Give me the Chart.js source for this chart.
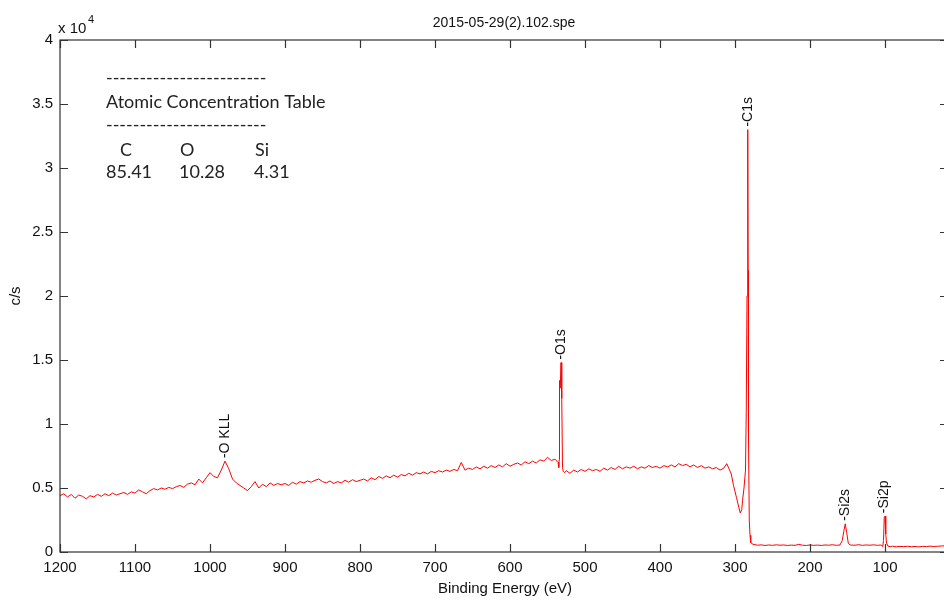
<!DOCTYPE html>
<html>
<head>
<meta charset="utf-8">
<script src="https://cdn.jsdelivr.net/npm/chart.js@4"></script>
<style>
    html, body { margin: 0; padding: 0; overflow: hidden; background: #fff; }
    #wrap { width: 949px; height: 601px; }
</style>
</head>
<body>
<div id="wrap"><canvas id="xpsChart" width="949" height="601"></canvas></div>
<script>
// binding energy (eV) and intensity (c/s)
let bindingEnergy = [
    1200, 1195, 1190, 1185, 1180, 1175, 1170, 1165, 1160, 1155, 1150, 1145, 1140, 1135, 1130, 1125, 1120, 1115, 1110, 1105,
    1100, 1095, 1090, 1085, 1080, 1075, 1070, 1065, 1060, 1055, 1050, 1045, 1040, 1035, 1030, 1025, 1020, 1015, 1010, 1005,
    1000, 995, 990, 985, 980, 975, 970, 965, 960, 955, 950, 945, 940, 935, 930, 925, 920, 915, 910, 905,
    900, 895, 890, 885, 880, 875, 870, 865, 860, 855, 850, 845, 840, 835, 830, 825, 820, 815, 810, 805,
    800, 795, 790, 785, 780, 775, 770, 765, 760, 755, 750, 745, 740, 735, 730, 725, 720, 715, 710, 705,
    700, 695, 690, 685, 680, 675, 670, 665, 660, 655, 650, 645, 640, 635, 630, 625, 620, 615, 610, 605,
    600, 595, 590, 585, 580, 575, 570, 565, 560, 555, 550, 545, 540, 536, 535, 534.5, 534, 533, 532, 531,
    530, 529, 527, 525, 520, 515, 510, 505, 500, 495, 490, 485, 480, 475, 470, 465, 460, 455, 450, 445,
    440, 435, 430, 425, 420, 415, 410, 405, 400, 395, 390, 385, 380, 375, 370, 365, 360, 355, 350, 345,
    340, 335, 330, 325, 320, 315, 311, 308, 305, 302, 298, 295, 293, 291, 290, 288, 286, 285, 284, 283,
    282.5, 282, 281, 280, 279, 276, 270, 265, 260, 255, 250, 245, 240, 235, 230, 225, 220, 215, 210, 205,
    200, 195, 190, 185, 180, 175, 170, 165, 160, 157, 155, 153, 151, 149, 147, 145, 140, 135, 130, 125,
    120, 115, 110, 105, 103, 102, 101, 100, 99, 98, 96, 93, 90, 85, 80, 75, 70, 65, 60, 55,
    50, 45, 40, 35, 30, 25, 20, 16
];
let countsPerSec = [
    4400, 4550, 4300, 4500, 4200, 4450, 4350, 4150, 4400, 4300, 4500, 4350, 4550, 4400, 4600, 4450, 4550, 4650, 4500, 4700,
    4600, 4850, 4700, 4550, 4800, 4950, 4850, 5000, 4900, 5050, 4950, 5100, 5200, 5050, 5300, 5400, 5250, 5700, 5400, 5800,
    6200, 5900, 5800, 6400, 7100, 6500, 5700, 5400, 5200, 5000, 4800, 5100, 5500, 5000, 5300, 5100, 5400, 5200, 5350, 5250,
    5350, 5200, 5450, 5300, 5500, 5400, 5550, 5450, 5600, 5700, 5500, 5400, 5550, 5350, 5500, 5400, 5600, 5450, 5650, 5500,
    5600, 5700, 5550, 5800, 5650, 5900, 5750, 5950, 5800, 6000, 5850, 6050, 5950, 6150, 6000, 6200, 6100, 6250, 6100, 6300,
    6200, 6350, 6250, 6400, 6300, 6450, 6350, 7000, 6400, 6550, 6450, 6650, 6500, 6700, 6550, 6750, 6600, 6800, 6650, 6900,
    6700, 6850, 6950, 6800, 7050, 6900, 7100, 6950, 7200, 7100, 7400, 7150, 7250, 7000, 6600, 7200, 13400, 12800, 14800, 12000,
    6600, 6300, 6200, 6350, 6150, 6400, 6250, 6450, 6300, 6500, 6350, 6450, 6300, 6550, 6400, 6600, 6450, 6700, 6500, 6650,
    6550, 6700, 6500, 6650, 6550, 6750, 6600, 6700, 6550, 6750, 6650, 6800, 6650, 6900, 6750, 6850, 6650, 6800, 6600, 6750,
    6550, 6650, 6500, 6600, 6400, 6550, 6900, 6500, 6100, 5200, 4250, 3500, 3050, 3300, 4000, 5000, 6400, 11000, 20000, 33000,
    22000, 9000, 2500, 1300, 730, 600, 530, 560, 510, 550, 520, 560, 530, 550, 510, 540, 520, 600, 530, 510,
    550, 520, 540, 510, 550, 530, 570, 520, 550, 900, 1600, 2200, 1500, 700, 560, 540, 530, 570, 520, 550,
    530, 560, 520, 550, 420, 900, 2700, 2800, 1400, 700, 460, 420, 450, 410, 440, 420, 450, 410, 430, 400,
    440, 420, 460, 430, 450, 470, 480, 490
];
let yTickValues = [0, 5000, 10000, 15000, 20000, 25000, 30000, 35000, 40000];

let peakNames = ["-O KLL", "-O1s", "-C1s", "-Si2s", "-Si2p"];
let peakEnergies = [980, 532, 283, 153, 100.5];
let peakHeights = [7100, 14800, 33000, 2200, 2800];

let tableHeader = ["C", "O", "Si"];
let tableValues = ["85.41", "10.28", "4.31"];

document.addEventListener("DOMContentLoaded", () => {
    let canvas = document.getElementById("xpsChart");
    initSpectrum(canvas);
});

function initSpectrum(canvas) {
    let points = bindingEnergy.map((e, i) => ({ x: e, y: countsPerSec[i] }));
    let axisFont = { family: "'Liberation Sans', Arial, sans-serif", size: 15 };

    let decorations = {
        id: "decorations",
        afterDraw(chart) {
            let ctx = chart.ctx;
            let area = chart.chartArea;
            let xs = chart.scales.x;
            let ys = chart.scales.y;
            let tick = 8;
            ctx.save();

            // frame and inward MATLAB-style ticks
            ctx.strokeStyle = "#333";
            ctx.lineWidth = 1.2;
            ctx.strokeRect(area.left, area.top, area.right - area.left, area.bottom - area.top);
            ctx.beginPath();
            xs.ticks.forEach(t => {
                let px = Math.round(xs.getPixelForValue(t.value)) + 0.5;
                ctx.moveTo(px, area.bottom); ctx.lineTo(px, area.bottom - tick);
                ctx.moveTo(px, area.top); ctx.lineTo(px, area.top + tick);
            });
            yTickValues.forEach(v => {
                let py = Math.round(ys.getPixelForValue(v)) + 0.5;
                ctx.moveTo(area.left, py); ctx.lineTo(area.left + tick, py);
                ctx.moveTo(area.right, py); ctx.lineTo(area.right - tick, py);
            });
            ctx.stroke();

            // titles
            ctx.fillStyle = "#111";
            ctx.font = "14px 'Liberation Sans', Arial, sans-serif";
            ctx.textAlign = "center";
            ctx.textBaseline = "middle";
            ctx.fillText("2015-05-29(2).102.spe", 504, 23);
            ctx.font = "15px 'Liberation Sans', Arial, sans-serif";
            ctx.fillText("Binding Energy (eV)", 505, 589);
            ctx.save();
            ctx.translate(16, 296);
            ctx.rotate(-Math.PI / 2);
            ctx.fillText("c/s", 0, 0);
            ctx.restore();

            // exponent
            ctx.textAlign = "left";
            ctx.textBaseline = "alphabetic";
            ctx.font = "15px 'Liberation Sans', Arial, sans-serif";
            ctx.fillText("x 10", 58, 33);
            ctx.font = "11px 'Liberation Sans', Arial, sans-serif";
            ctx.fillText("4", 88, 23);

            // peak labels
            ctx.font = "14px 'Liberation Sans', Arial, sans-serif";
            ctx.textBaseline = "middle";
            ctx.textAlign = "left";
            peakNames.forEach((name, i) => {
                let px = xs.getPixelForValue(peakEnergies[i]);
                let py = ys.getPixelForValue(peakHeights[i]) - 3;
                ctx.save();
                ctx.translate(px, py);
                ctx.rotate(-Math.PI / 2);
                ctx.fillText(name, 0, 0);
                ctx.restore();
            });

            // atomic concentration table
            ctx.fillStyle = "#222";
            ctx.textBaseline = "alphabetic";
            ctx.font = "20px Lato, 'Open Sans', sans-serif";
            let w = ctx.measureText("Atomic Concentration Table").width;
            let size = 20 * 220 / w;
            ctx.font = size.toFixed(1) + "px Lato, 'Open Sans', sans-serif";
            let dashes = "------------------------";
            ctx.fillText(dashes, 106, 84);
            ctx.fillText("Atomic Concentration Table", 106, 108);
            ctx.fillText(dashes, 106, 131);
            let headX = [120, 180, 255];
            let valX = [106, 179, 254];
            tableHeader.forEach((h, i) => ctx.fillText(h, headX[i], 156));
            tableValues.forEach((v, i) => ctx.fillText(v, valX[i], 178));

            ctx.restore();
        }
    };

    new Chart(canvas, {
        type: "line",
        data: {
            datasets: [{
                data: points,
                borderColor: "#ff0000",
                borderWidth: 1,
                pointRadius: 0,
                tension: 0,
                fill: false
            }]
        },
        options: {
            responsive: false,
            animation: false,
            layout: { padding: { top: 40, right: 1, left: 0, bottom: 0 } },
            plugins: {
                legend: { display: false },
                tooltip: { enabled: false }
            },
            scales: {
                x: {
                    type: "linear",
                    reverse: true,
                    min: 16,
                    max: 1200,
                    grid: { display: false },
                    border: { display: false },
                    ticks: {
                        stepSize: 100,
                        includeBounds: false,
                        autoSkip: false,
                        maxRotation: 0,
                        padding: -1,
                        color: "#111",
                        font: axisFont,
                        callback: v => String(v)
                    },
                    afterFit(scale) { scale.height = 49; }
                },
                y: {
                    min: 0,
                    max: 40000,
                    grid: { display: false },
                    border: { display: false },
                    ticks: {
                        stepSize: 5000,
                        padding: -1,
                        color: "#111",
                        font: axisFont,
                        callback: v => String(v / 10000)
                    },
                    afterFit(scale) { scale.width = 60; }
                }
            }
        },
        plugins: [decorations]
    });
}
</script>
</body>
</html>
